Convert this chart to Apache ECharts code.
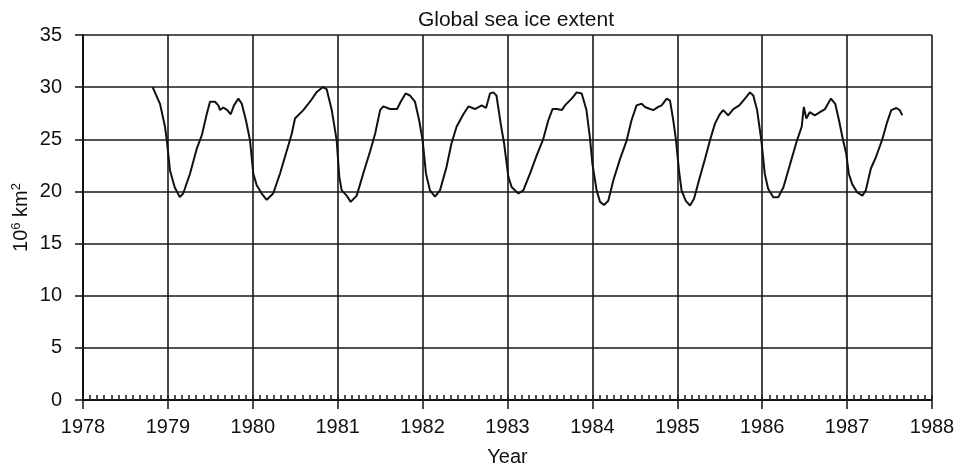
<!DOCTYPE html>
<html>
<head>
<meta charset="utf-8">
<script src="https://cdn.jsdelivr.net/npm/echarts@6/dist/echarts.min.js"></script>
<style>html,body{margin:0;padding:0;background:#fff}#c{width:960px;height:470px}</style>
</head>
<body>
<div id="c"></div>
<script>
var years = [1978.82,1978.907,1978.966,1978.986,1979.025,1979.08,1979.14,1979.18,1979.26,1979.34,1979.40,1979.457,1979.496,1979.555,1979.594,1979.614,1979.653,1979.70,1979.74,1979.778,1979.83,1979.87,1979.92,1979.967,1980.006,1980.046,1980.105,1980.164,1980.24,1980.32,1980.40,1980.458,1980.497,1980.595,1980.674,1980.75,1980.823,1980.87,1980.93,1980.988,1981.019,1981.047,1981.106,1981.153,1981.224,1981.30,1981.38,1981.44,1981.50,1981.537,1981.616,1981.70,1981.742,1981.80,1981.85,1981.91,1981.96,1982.0,1982.04,1982.087,1982.146,1982.205,1982.28,1982.34,1982.40,1982.48,1982.54,1982.617,1982.696,1982.747,1982.794,1982.833,1982.87,1982.92,1982.96,1983.01,1983.05,1983.128,1983.186,1983.265,1983.344,1983.42,1983.48,1983.53,1983.58,1983.64,1983.677,1983.756,1983.815,1983.874,1983.93,1983.97,1984.0,1984.05,1984.09,1984.137,1984.187,1984.246,1984.325,1984.404,1984.46,1984.52,1984.58,1984.62,1984.68,1984.717,1984.776,1984.816,1984.875,1984.914,1984.953,1984.985,1985.02,1985.05,1985.10,1985.15,1985.197,1985.267,1985.326,1985.385,1985.444,1985.50,1985.54,1985.60,1985.66,1985.73,1985.797,1985.856,1985.895,1985.94,1985.99,1986.03,1986.07,1986.13,1986.19,1986.25,1986.33,1986.41,1986.465,1986.49,1986.52,1986.56,1986.62,1986.68,1986.74,1986.81,1986.86,1986.905,1986.95,1986.99,1987.02,1987.06,1987.12,1987.18,1987.22,1987.28,1987.34,1987.415,1987.47,1987.52,1987.58,1987.62,1987.65];
var extent = [30.0,28.4,26.2,25.0,22.0,20.4,19.45,19.8,21.7,24.1,25.4,27.4,28.6,28.6,28.25,27.8,28.05,27.8,27.4,28.25,28.9,28.4,26.8,24.9,21.7,20.6,19.8,19.2,19.8,21.7,23.9,25.5,27.0,27.8,28.6,29.5,30.0,29.8,27.8,24.9,21.4,20.1,19.6,19.0,19.6,21.7,23.8,25.5,27.8,28.15,27.9,27.9,28.6,29.4,29.2,28.6,26.8,24.9,21.7,20.1,19.5,20.1,22.3,24.6,26.2,27.4,28.15,27.9,28.25,28.0,29.4,29.5,29.2,26.5,24.6,21.4,20.4,19.8,20.1,21.7,23.45,25.0,26.8,27.9,27.9,27.8,28.25,28.9,29.5,29.4,27.8,25.2,22.65,20.1,19.0,18.7,19.1,21.05,23.1,24.9,26.8,28.25,28.4,28.1,27.9,27.8,28.1,28.25,28.9,28.7,26.8,24.9,22.0,20.1,19.1,18.65,19.3,21.4,23.1,24.9,26.5,27.4,27.8,27.3,27.9,28.25,28.9,29.5,29.2,27.8,24.9,21.7,20.25,19.45,19.45,20.4,22.65,24.9,26.2,28.1,27.0,27.6,27.3,27.6,27.9,28.9,28.4,26.8,25.0,23.6,21.7,20.7,19.9,19.6,20.1,22.2,23.3,25.0,26.6,27.8,28.0,27.8,27.3];
var yearTicks = [1978,1979,1980,1981,1982,1983,1984,1985,1986,1987,1988];
var extentTicks = [0,5,10,15,20,25,30,35];

var data = years.map(function (y, i) { return [y, extent[i]]; });
var font = 'Liberation Sans, Arial, sans-serif';
var chart = echarts.init(document.getElementById('c'));
chart.setOption({
  animation: false,
  backgroundColor: '#fff',
  title: {
    text: 'Global sea ice extent',
    left: 511, top: 5, textAlign: 'center',
    textStyle: {fontFamily: font, fontSize: 21, fontWeight: 'normal', color: '#111'}
  },
  grid: {left: 83, right: 28, top: 35, bottom: 70, containLabel: false, outerBoundsMode: 'none'},
  xAxis: [{
    type: 'value', min: yearTicks[0], max: yearTicks[yearTicks.length - 1], interval: 1,
    name: 'Year', nameLocation: 'middle', nameGap: 47, nameMoveOverlap: false,
    nameTextStyle: {fontFamily: font, fontSize: 20, color: '#111'},
    axisLine: {show: true, lineStyle: {color: '#111', width: 2}},
    axisTick: {show: true, length: 9, lineStyle: {color: '#111', width: 1.5}},
    axisLabel: {fontFamily: font, fontSize: 20, color: '#111', margin: 17,
      formatter: function (v) { return String(Math.round(v)); }},
    splitLine: {show: true, lineStyle: {color: '#1a1a1a', width: 1.6}}
  }, {
    type: 'value', min: yearTicks[0], max: yearTicks[yearTicks.length - 1], interval: 1 / 12,
    position: 'bottom',
    axisLine: {show: false},
    axisTick: {show: true, inside: true, length: 5, lineStyle: {color: '#222', width: 1.6}},
    axisLabel: {show: false},
    splitLine: {show: false}
  }],
  yAxis: {
    type: 'value', min: extentTicks[0], max: extentTicks[extentTicks.length - 1], interval: 5,
    name: '10{sup|6} km{sup|2}', nameLocation: 'middle', nameGap: 50, nameRotate: 90, nameMoveOverlap: false,
    nameTextStyle: {fontFamily: font, fontSize: 20, color: '#111',
      rich: {sup: {fontFamily: font, fontSize: 13, color: '#111', verticalAlign: 'top', padding: [0, 0, 10, 0]}}},
    axisLine: {show: true, lineStyle: {color: '#111', width: 2}},
    axisTick: {show: true, length: 8, lineStyle: {color: '#111', width: 1.5}},
    axisLabel: {fontFamily: font, fontSize: 20, color: '#111', margin: 21},
    splitLine: {show: true, lineStyle: {color: '#1a1a1a', width: 1.6}}
  },
  series: [{
    type: 'line', data: data, xAxisIndex: 0, showSymbol: false, symbol: 'none',
    lineStyle: {color: '#111', width: 2}
  }]
});
</script>
</body>
</html>
